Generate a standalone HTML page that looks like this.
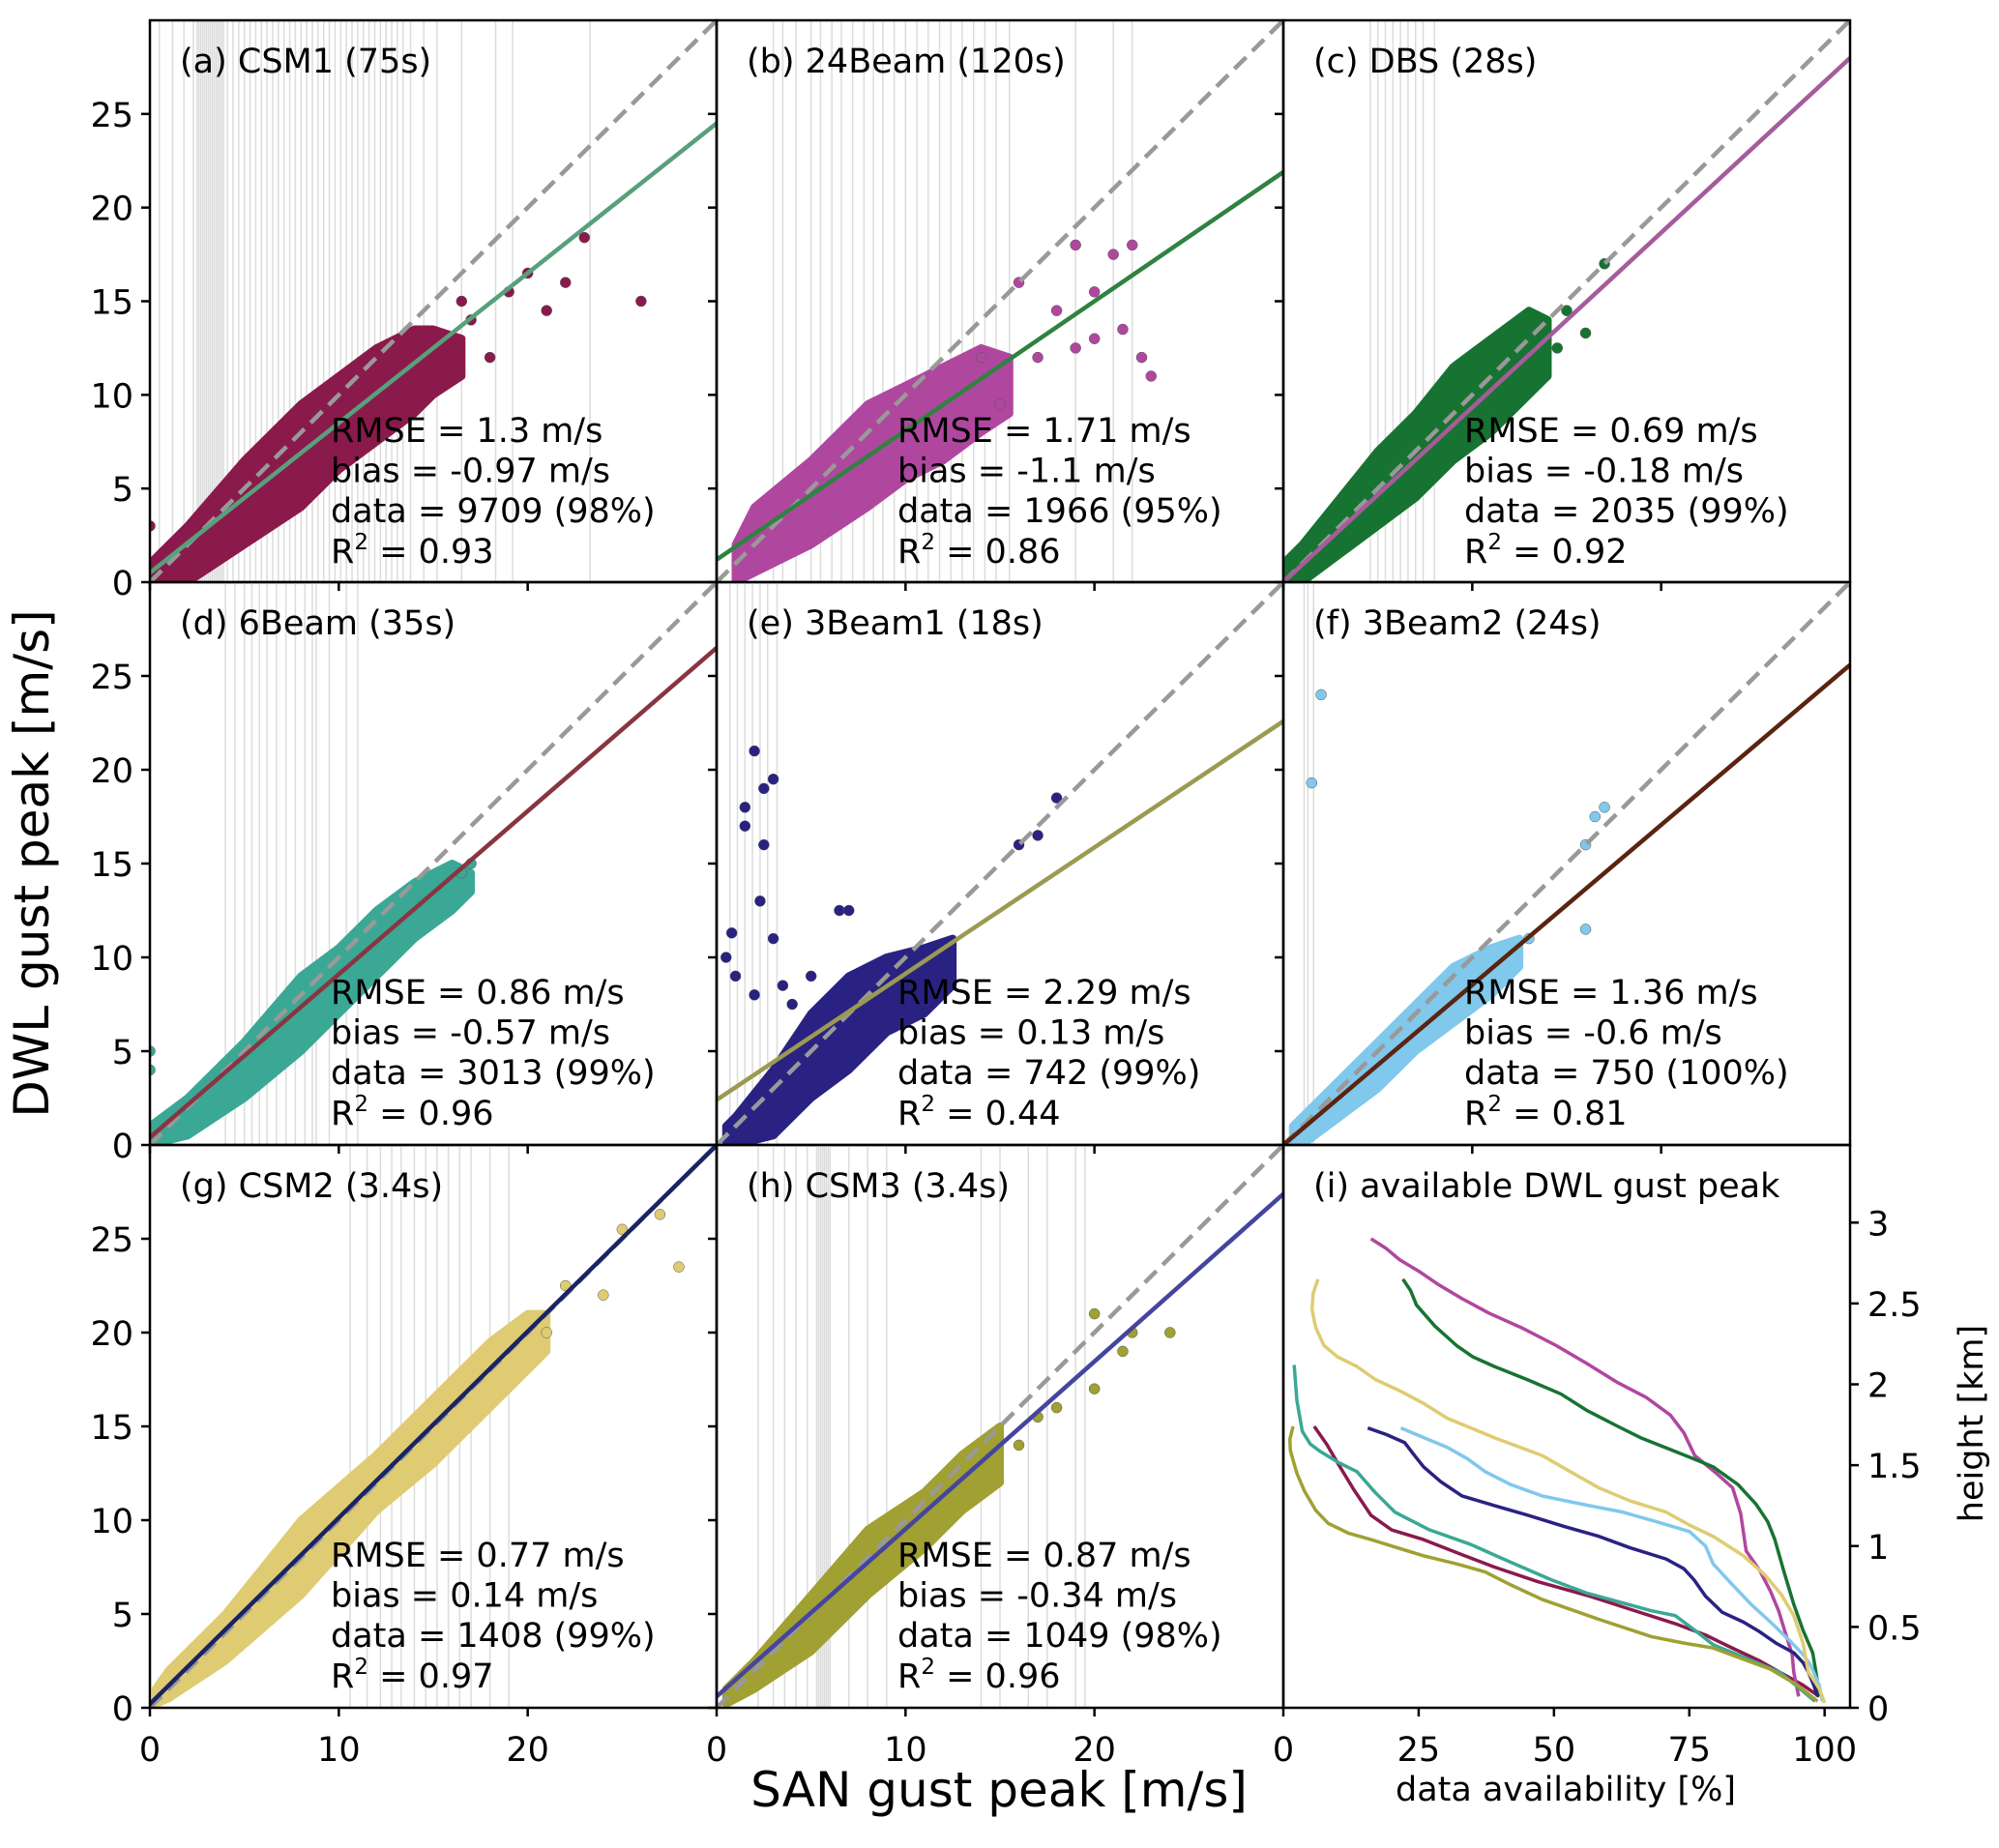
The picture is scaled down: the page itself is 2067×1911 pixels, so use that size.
<!DOCTYPE html>
<html><head><meta charset="utf-8">
<style>
html,body{margin:0;padding:0;background:#fff}
svg{display:block;font-family:"DejaVu Sans","Liberation Sans",sans-serif}
</style></head>
<body>
<svg id="fig" width="2067" height="1911" viewBox="0 0 2067 1911" xmlns="http://www.w3.org/2000/svg"></svg>
<script>
// ---- data ----
const panelTitles = ["(a) CSM1 (75s)","(b) 24Beam (120s)","(c) DBS (28s)","(d) 6Beam (35s)","(e) 3Beam1 (18s)","(f) 3Beam2 (24s)","(g) CSM2 (3.4s)","(h) CSM3 (3.4s)"];
const rmse = ["1.3","1.71","0.69","0.86","2.29","1.36","0.77","0.87"];
const bias = ["-0.97","-1.1","-0.18","-0.57","0.13","-0.6","0.14","-0.34"];
const dataCount = ["9709 (98%)","1966 (95%)","2035 (99%)","3013 (99%)","742 (99%)","750 (100%)","1408 (99%)","1049 (98%)"];
const r2 = ["0.93","0.86","0.92","0.96","0.44","0.81","0.97","0.96"];
const fitSlope = [0.80,0.69,0.933,0.87,0.673,0.853,0.993,0.893];
const fitIntercept = [0.5,1.2,0.0,0.4,2.4,0.0,0.2,0.6];
const pointColor = ["#8a1a4c","#b0479f","#177331","#3aa894","#2a2282","#80c8ec","#dfcb72","#a0a033"];
const lineColor = ["#58a07c","#2f8240","#a55c9a","#8a3441","#9a9a52","#5a2410","#1a2363","#4545a0"];
const bandX = [[0,2,5,8,10,12,14,15,16.5],[1,2,5,8,10,12,14,15.5],[0,1,3,5,7,9,11,13,14],[0,2,5,8,10,12,14,16,17],[0.5,1,3,5,7,9,11,12.5],[0.5,1,3,5,7,9,11,12.5],[0.3,1,4,8,12,15,18,20,21],[0.5,2,5,8,11,13,15]];
const bandLo = [[0,0,2,4,6,7.5,9,10,11],[0,0.5,2,4,5.5,6.5,8,9],[0,0,1.5,3,4.5,6.5,8,10,11],[0,0.5,2.5,5,7,9,11,12.5,13.5],[0,0,0.5,2.5,4,6,7,8.5],[0,0,1.5,3,5,6.5,8,9.5],[0.2,0.5,2.5,6,10.5,13,16,18,19],[0.2,1,3,6,8.5,10.5,12]];
const bandHi = [[1,3,6.5,9.5,11,12.5,13.5,13.5,13],[2,4,6.5,9.5,10.5,11.5,12.5,12],[1,2,4.5,7,9,11.5,13,14.5,14],[1,2.5,5.5,9,10.5,12.5,14,15,14.5],[1,1.5,4,7,9,10,10.5,11],[1,1.5,3.5,5.5,7.5,9.5,10.5,11],[1,2,5,10,13.5,16.5,19.5,21,21],[1,2.5,6,9.5,11.5,13.5,15]];
const outX = [[26,23,20,21,18,19,17,22,16.5,0],[16,18,19,20,21,22,20,15,19,17,21.5,22.5,23,14],[15,14.5,17,16,0.5],[0,0,17,16.5],[2,3,2.5,1.5,1.5,2.5,0.8,0.5,1,3,2.3,3.5,2,4,5,6.5,7,18,16,17],[2,1.5,17,16.5,16,16,13],[25,27,28,24,21,22],[20,22,24,21.5,20,16,18,17]];
const outY = [[15,18.4,16.5,14.5,12,15.5,14,16,15,3],[16,14.5,18,15.5,17.5,18,13,9.5,12.5,12,13.5,12,11,12],[14.5,12.5,17,13.3,0.3],[4,5,15,14.5],[21,19.5,19,18,17,16,11.3,10,9,11,13,8.5,8,7.5,9,12.5,12.5,18.5,16,16.5],[24,19.3,18,17.5,16,11.5,11],[25.5,26.3,23.5,22,20,22.5],[21,20,20,19,17,14,16,15.5]];
const greyLines = [
 [0.5,1.2,1.8,2.3,2.5,2.6,2.7,2.8,2.9,3.0,3.1,3.2,3.3,3.4,3.5,3.6,3.7,3.8,3.9,4.1,4.4,4.7,5.0,5.3,5.6,5.9,6.2,6.5,6.8,7.1,7.4,7.7,8.0,8.3,8.6,8.9,9.2,9.5,9.8,10.1,10.4,10.7,11.0,11.3,11.6,11.9,12.2,12.5,12.8,13.1,13.4,13.8,14.5,15.2,16.5,18.3,19.2,23.3],
 [3,3.5,4.2,5,5.5,6.1,6.6,7.2,7.8,8.3,8.8,9.4,10,10.6,11.2,11.8,12.4,13,13.6,14.2,14.8,15.5,19,21,22],
 [4.6,5,5.4,5.8,6.2,6.6,7,7.4,8],
 [4,4.5,5,5.4,5.8,6.2,6.7,7.2,7.7,8.2,8.6,8.8,9.5,10.4,11],
 [0.7,1.1,1.5,1.9,2.3,2.7,3.2],
 [1.1,1.3,1.6],
 [10.6,11.5,12.2,12.8,13.3,14,14.6,15.2,15.8,16.4,17,18,19],
 [2.2,3,3.6,4.2,4.8,5.3,5.4,5.5,5.6,5.7,5.8,5.9,6.0,7,8,9,14,15,16.5,17.5,19,19.5]
];
// panel (i) availability curves
const availColors = ["#8a1a4c","#b0479f","#177331","#3aa894","#2a2282","#80c8ec","#dfcb72","#a0a033"];
const availPct = [
 [5.7,8,10.1,13,16.2,20,25.9,32,39,47,56.6,64,72.4,78,82.9,88,91.7,96,99],
 [16.2,19,21.5,25,28.5,33,38,44,50.4,56,61.8,67,71.5,74,76,80,83,84.5,85.5,88,90,91.5,92.5,94,94.3,95.2],
 [22.1,23.5,24.6,28,32,35,39,45,51.3,56,61.8,66,70.5,75,79.4,84,87.3,89.5,90.8,92.5,94.3,96,97.8,98.5,99],
 [2,2.5,3.5,5,6.6,10,13.6,17,20.6,27,34.6,42,49.6,56,63.6,68,72.4,76,79.4,86,91.7,95,98.2],
 [15.6,19,22.4,24,25.9,29,33,39,45.2,52,58.3,64,70.7,74,75.9,78,81.1,85,88,91,94.3,96,97,98,98.7],
 [21.7,26,30.3,34,37.3,42,47.8,55,62.7,69,75,78,79.4,83,86.4,90,93.4,96,97.3,99,99.6],
 [6.4,5.5,5.3,6,7.5,10,13.6,17,21.5,26,30.3,39,47.8,53,58.3,64,70.7,75,79.4,85,89,92,94.3,96,97,99,100],
 [1.8,1.2,1.3,2.5,3.9,6,8.3,12,16.2,21,25.9,32,37.3,42,47.8,58,68,74,79.4,85,89.9,95,98.7]
];
const availHeight = [
 [1.74,1.63,1.51,1.35,1.19,1.1,1.04,0.96,0.87,0.78,0.69,0.61,0.52,0.45,0.37,0.29,0.22,0.14,0.07],
 [2.90,2.84,2.77,2.70,2.62,2.53,2.44,2.35,2.24,2.13,2.01,1.92,1.81,1.70,1.56,1.45,1.36,1.2,0.97,0.85,0.72,0.6,0.49,0.33,0.22,0.07],
 [2.65,2.58,2.49,2.36,2.24,2.17,2.11,2.03,1.94,1.84,1.74,1.67,1.61,1.55,1.49,1.38,1.26,1.15,1.04,0.84,0.64,0.48,0.34,0.2,0.07],
 [2.12,1.9,1.71,1.63,1.59,1.52,1.46,1.33,1.21,1.1,1.01,0.9,0.79,0.71,0.64,0.6,0.57,0.48,0.39,0.3,0.22,0.13,0.04],
 [1.73,1.69,1.64,1.57,1.49,1.4,1.31,1.25,1.19,1.12,1.06,0.99,0.92,0.86,0.79,0.69,0.59,0.53,0.47,0.4,0.34,0.28,0.22,0.14,0.07],
 [1.73,1.67,1.61,1.54,1.46,1.38,1.31,1.26,1.21,1.15,1.09,1.0,0.89,0.76,0.64,0.53,0.42,0.33,0.27,0.14,0.04],
 [2.65,2.56,2.46,2.35,2.24,2.17,2.11,2.03,1.96,1.88,1.79,1.67,1.56,1.46,1.36,1.28,1.21,1.13,1.06,0.94,0.82,0.7,0.57,0.4,0.22,0.12,0.03],
 [1.74,1.66,1.59,1.45,1.34,1.22,1.14,1.08,1.04,0.99,0.94,0.89,0.84,0.76,0.67,0.55,0.44,0.4,0.37,0.3,0.24,0.14,0.04]
];
const xTicks = [0,10,20];
const yTicks = [0,5,10,15,20,25];
const availXTicks = [0,25,50,75,100];
const heightTicks = [0,0.5,1,1.5,2,2.5,3];

// ---- layout ----
const colX = [155,741,1327,1913];
const rowY = [21,602,1184,1766];
const FS = 35;
const NS = "http://www.w3.org/2000/svg";
const svg = document.getElementById('fig');
function el(tag, attrs, parent){const e=document.createElementNS(NS,tag);for(const k in attrs)e.setAttribute(k,attrs[k]);(parent||svg).appendChild(e);return e;}

for(let p=0;p<9;p++){
  const c=p%3, r=Math.floor(p/3);
  const x0=colX[c], x1=colX[c+1], y0=rowY[r], y1=rowY[r+1];
  const g=el('g',{});
  
  
  const cid='clip'+p;
  const cp=el('clipPath',{id:cid},g); el('rect',{x:x0,y:y0,width:x1-x0,height:y1-y0},cp);
  const inner=el('g',{'clip-path':'url(#'+cid+')'},g);
  if(p<8){
    const sx=v=>x0+v/30*(x1-x0), sy=v=>y1-v/30*(y1-y0);
    greyLines[p].forEach(v=>{
      const l=el('line',{x1:sx(v),x2:sx(v),y1:y0,y2:y1,stroke:'#dcdcdc','stroke-width':1.5},inner);
      
    });
    let pts=[];
    bandX[p].forEach((v,i)=>pts.push(sx(v)+','+sy(bandHi[p][i])));
    for(let i=bandX[p].length-1;i>=0;i--)pts.push(sx(bandX[p][i])+','+sy(bandLo[p][i]));
    const band=el('polygon',{points:pts.join(' '),fill:pointColor[p],stroke:pointColor[p],'stroke-width':8,'stroke-linejoin':'round'},inner);
    
    outX[p].forEach((v,i)=>{
      const d=el('circle',{cx:sx(v),cy:sy(outY[p][i]),r:5.5,fill:pointColor[p],stroke:'#555','stroke-width':0.5},inner);
      
    });
    const dl=el('line',{x1:sx(0),y1:sy(0),x2:sx(30),y2:sy(30),stroke:'#999','stroke-width':4.5,'stroke-dasharray':'17,9'},inner);
    
    const fl=el('line',{x1:sx(0),y1:sy(fitIntercept[p]),x2:sx(30),y2:sy(fitIntercept[p]+30*fitSlope[p]),stroke:lineColor[p],'stroke-width':4.5},inner);
    
    const t=el('text',{x:x0+31,y:y0+54,'font-size':FS},g); t.textContent=panelTitles[p];
    
    const lines=['RMSE = '+rmse[p]+' m/s','bias = '+bias[p]+' m/s','data = '+dataCount[p]];
    lines.forEach((s,i)=>{const tt=el('text',{x:x0+187,y:y0+436+i*41.5,'font-size':FS},g);tt.textContent=s;
      });
    const rt=el('text',{x:x0+187,y:y0+561,'font-size':FS},g);
    
    rt.innerHTML='R<tspan dy="-14" font-size="23">2</tspan><tspan dy="14"> = '+r2[p]+'</tspan>';
    yTicks.forEach(v=>{el('line',{x1:x0-9,x2:x0,y1:sy(v),y2:sy(v),stroke:'#000','stroke-width':2.5},g);
      if(c===0){const tl=el('text',{x:x0-17,y:sy(v)+13,'font-size':FS,'text-anchor':'end'},g);tl.textContent=v;
        }});
    xTicks.forEach(v=>{el('line',{x1:sx(v),x2:sx(v),y1:y1,y2:y1+9,stroke:'#000','stroke-width':2.5},g);
      if(r===2){const tl=el('text',{x:sx(v),y:y1+55,'font-size':FS,'text-anchor':'middle'},g);tl.textContent=v;
        }});
  } else {
    const sx=v=>x0+v/104.7*(x1-x0), sy=v=>y1-v/3.48*(y1-y0);
    availPct.forEach((arr,k)=>{
      const d=arr.map((v,i)=>(i?'L':'M')+sx(v)+','+sy(availHeight[k][i])).join(' ');
      const pth=el('path',{d:d,fill:'none',stroke:availColors[k],'stroke-width':3.5,'stroke-linejoin':'round'},inner);
      
    });
    const t=el('text',{x:x0+31,y:y0+54,'font-size':FS},g); t.textContent='(i) available DWL gust peak';
    
    heightTicks.forEach(v=>{el('line',{x1:x1,x2:x1+9,y1:sy(v),y2:sy(v),stroke:'#000','stroke-width':2.5},g);
      const tl=el('text',{x:x1+18,y:sy(v)+13,'font-size':FS},g);tl.textContent=v;
      });
    availXTicks.forEach(v=>{el('line',{x1:sx(v),x2:sx(v),y1:y1,y2:y1+9,stroke:'#000','stroke-width':2.5},g);
      const tl=el('text',{x:sx(v),y:y1+55,'font-size':FS,'text-anchor':'middle'},g);tl.textContent=v;
      });
  }
  el('rect',{x:x0,y:y0,width:x1-x0,height:y1-y0,fill:'none',stroke:'#000','stroke-width':2.5},g);
}
let t=el('text',{x:1033,y:1868,'font-size':50,'text-anchor':'middle'});t.textContent='SAN gust peak [m/s]';

t=el('text',{x:0,y:0,'font-size':50,'text-anchor':'middle',transform:'translate(50,893) rotate(-90)'});t.textContent='DWL gust peak [m/s]';

t=el('text',{x:1619,y:1862,'font-size':FS,'text-anchor':'middle'});t.textContent='data availability [%]';

t=el('text',{x:0,y:0,'font-size':FS,'text-anchor':'middle',transform:'translate(2050,1472) rotate(-90)'});t.textContent='height [km]';

</script>
</body></html>
